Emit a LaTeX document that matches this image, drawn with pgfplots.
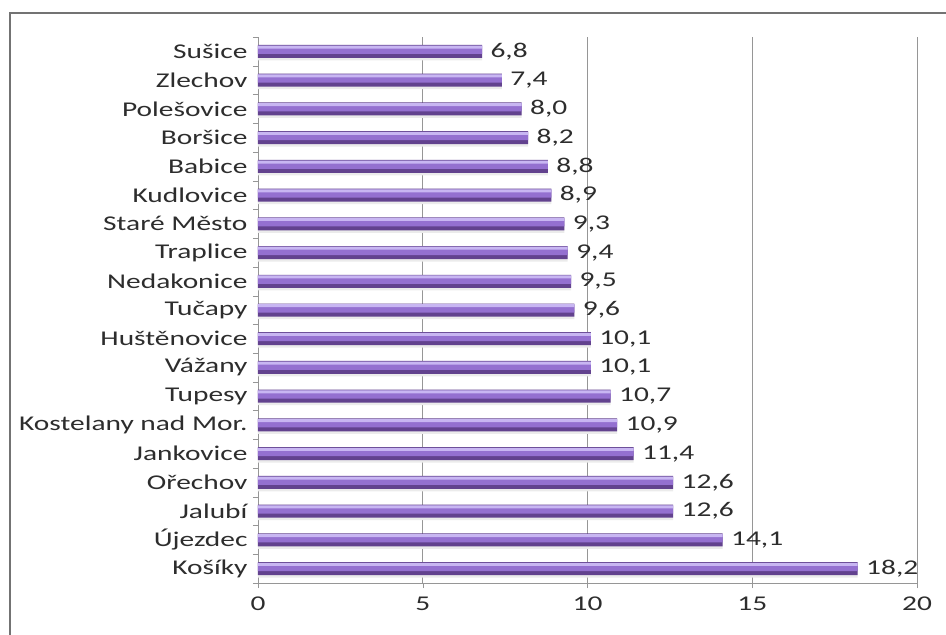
\documentclass[border=0pt]{standalone}
\usepackage{fontspec}
\setmainfont{Carlito}[FakeStretch=1.4]
\usepackage{pgfplots}
\pgfplotsset{compat=1.18}
\definecolor{barlight}{RGB}{200,182,242}
\definecolor{barmid}{RGB}{148,112,208}
\definecolor{bardark}{RGB}{98,66,142}
\definecolor{txt}{RGB}{45,45,45}
\definecolor{gridc}{RGB}{150,150,150}
\pgfplotstableread{
v y
6.8 0
7.4 1
8.0 2
8.2 3
8.8 4
8.9 5
9.3 6
9.4 7
9.5 8
9.6 9
10.1 10
10.1 11
10.7 12
10.9 13
11.4 14
12.6 15
12.6 16
14.1 17
18.2 18
}\datatable
\begin{document}
\begin{tikzpicture}
\useasboundingbox (0pt,0pt) rectangle (946pt,635pt);
\draw[black!55, line width=1.3pt] (10pt,-20pt) -- (10pt,622pt) -- (980pt,622pt);
\begin{axis}[
  at={(258pt,52pt)}, anchor=south west, scale only axis,
  width=659pt, height=546pt,
  xmin=0, xmax=20, ymin=-0.5, ymax=18.5, y dir=reverse,
  xtick={0,5,10,15,20},
  ytick={0,...,18},
  yticklabels={Sušice,Zlechov,Polešovice,Boršice,Babice,Kudlovice,Staré Město,Traplice,Nedakonice,Tučapy,Huštěnovice,Vážany,Tupesy,Kostelany nad Mor.,Jankovice,Ořechov,Jalubí,Újezdec,Košíky},
  major tick length=0pt,
  minor ytick={-0.5,0.5,...,18.5},
  minor xtick={0,5,10,15,20},
  minor tick length=5pt,
  tick align=outside,
  minor tick style={gridc},
  axis x line*=bottom, axis y line*=left,
  axis line style={gridc},
  xmajorgrids, major grid style={gridc, line width=0.6pt},
  ticklabel style={font=\fontsize{21}{24}\selectfont, text=txt},
  yticklabel style={xshift=-7pt},
  xticklabel style={yshift=-10pt},
  /pgf/number format/assume math mode=true,
  clip=false,
]
\addplot[xbar, bar shift=-4.5pt, bar width=9pt, draw=none, fill=black!8, forget plot] table[x=v,y=y] {\datatable};
\addplot[xbar, bar shift=0pt, bar width=13pt, draw=none, fill=bardark,
  nodes near coords={\pgfmathprintnumber[fixed,fixed zerofill,precision=1,use comma,assume math mode=true]{\pgfplotspointmeta}},
  point meta=x,
  nodes near coords align={horizontal},
  every node near coord/.append style={font=\fontsize{21}{24}\selectfont, text=txt, xshift=5pt}] table[x=v,y=y] {\datatable};
\addplot[xbar, bar shift=1.5pt, bar width=8pt, draw=none, fill=barmid, forget plot] table[x=v,y=y] {\datatable};
\addplot[xbar, bar shift=4.3pt, bar width=3pt, draw=none, fill=barlight, forget plot] table[x=v,y=y] {\datatable};
\end{axis}
\end{tikzpicture}
\end{document}
